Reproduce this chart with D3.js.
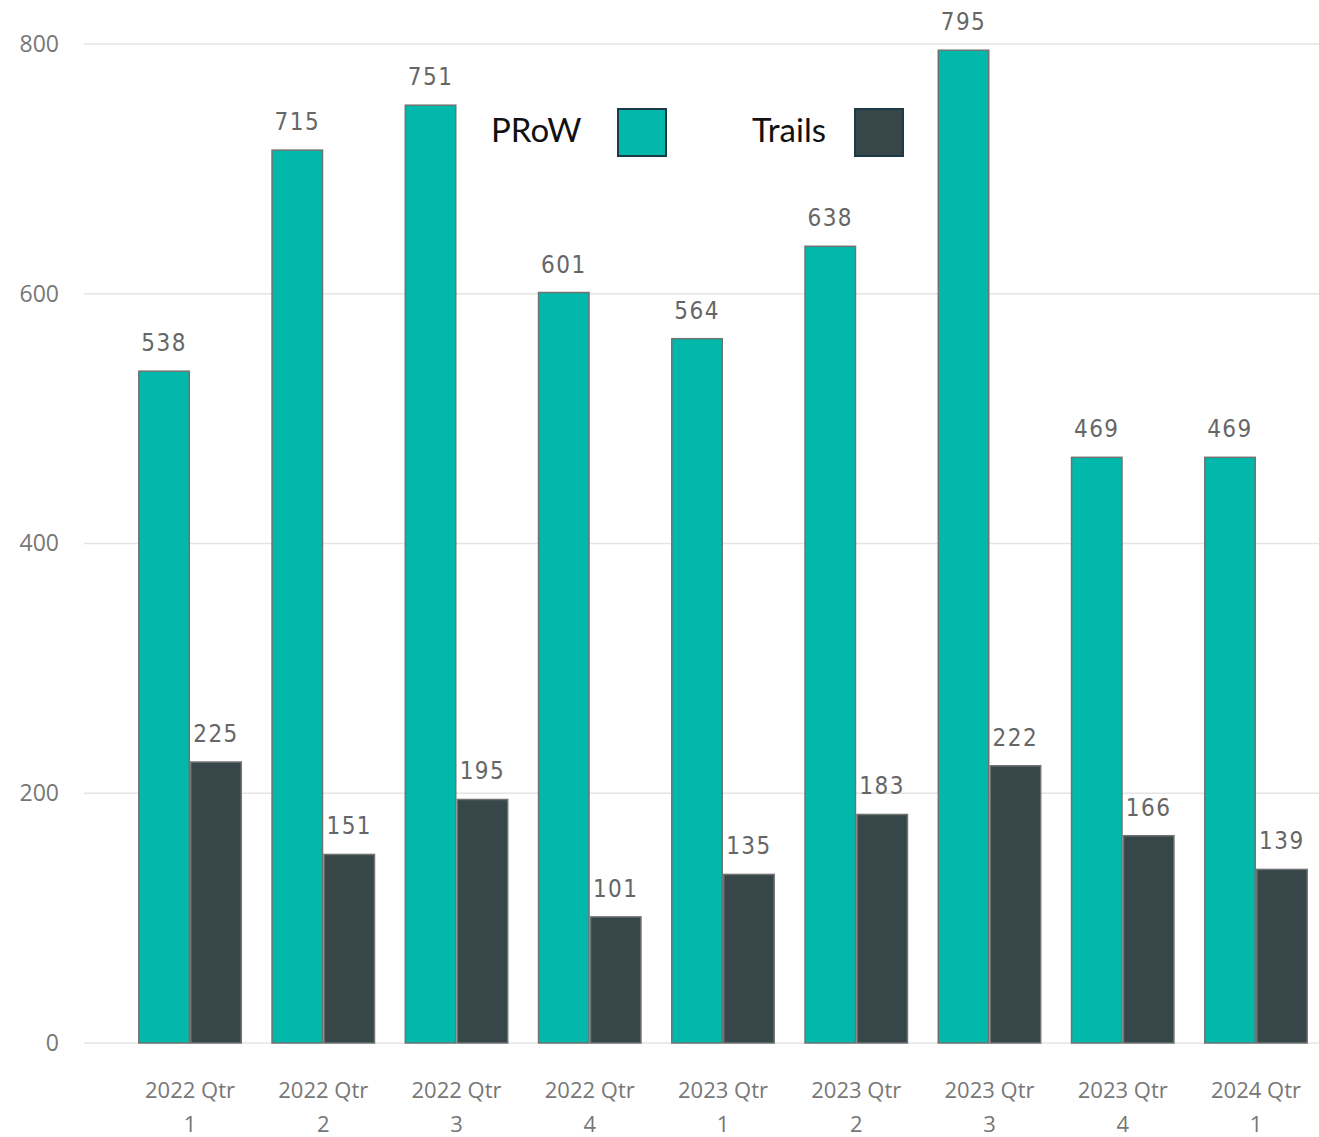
<!DOCTYPE html>
<html>
<head>
<meta charset="utf-8">
<script src="https://cdn.jsdelivr.net/npm/d3@7"></script>
<style>
  html, body { margin: 0; padding: 0; background: #ffffff; }
  svg { display: block; }
</style>
</head>
<body>
<svg id="chart" width="1319" height="1137"></svg>
<script>
// Quarterly counts for public rights of way (PRoW) and trails
const quarters = ["2022 Qtr 1", "2022 Qtr 2", "2022 Qtr 3", "2022 Qtr 4",
                  "2023 Qtr 1", "2023 Qtr 2", "2023 Qtr 3", "2023 Qtr 4", "2024 Qtr 1"];
const prowValues = [538, 715, 751, 601, 564, 638, 795, 469, 469];
const trailsValues = [225, 151, 195, 101, 135, 183, 222, 166, 139];
const seriesNames = ["PRoW", "Trails"];
const yTicks = [0, 200, 400, 600, 800];

const colors = { PRoW: "#01b8aa", Trails: "#374649" };

const rows = quarters.map((q, i) => ({ quarter: q, PRoW: prowValues[i], Trails: trailsValues[i] }));

const svg = d3.select("#chart");

const y = d3.scaleLinear().domain([0, 800]).range([1043, 44]);

const x0 = d3.scaleBand()
  .domain(quarters)
  .range([123.4, 1322.6])
  .paddingInner(0.22)
  .paddingOuter(0.11);

const x1 = d3.scaleBand()
  .domain(seriesNames)
  .range([0, x0.bandwidth()])
  .padding(0);

// Horizontal gridlines
svg.append("g")
  .selectAll("line")
  .data(yTicks)
  .join("line")
  .attr("x1", 84).attr("x2", 1319)
  .attr("y1", d => y(d)).attr("y2", d => y(d))
  .attr("stroke", "#e4e4e4")
  .attr("stroke-width", 1.5);

// Y axis tick labels
const yAxis = d3.axisLeft(y).tickValues(yTicks).tickSize(0).tickPadding(0);
const yg = svg.append("g").attr("transform", "translate(59,0)").call(yAxis);
yg.select(".domain").remove();
yg.selectAll("text")
  .attr("fill", "#777777")
  .style("font-family", "'Open Sans', 'Noto Sans', sans-serif")
  .style("font-size", "23px");

// Grouped bars
const groups = svg.append("g")
  .selectAll("g")
  .data(rows)
  .join("g")
  .attr("transform", d => `translate(${x0(d.quarter)},0)`);

groups.selectAll("rect")
  .data(d => seriesNames.map(k => ({ key: k, value: d[k] })))
  .join("rect")
  .attr("x", d => x1(d.key) + 0.75)
  .attr("width", x1.bandwidth() - 1.5)
  .attr("y", d => y(d.value))
  .attr("height", d => y(0) - y(d.value))
  .attr("fill", d => colors[d.key])
  .attr("stroke", "#707372")
  .attr("stroke-width", 1.5);

// Value labels above each bar
groups.selectAll("text.val")
  .data(d => seriesNames.map(k => ({ key: k, value: d[k] })))
  .join("text")
  .attr("class", "val")
  .attr("x", d => x1(d.key) + x1.bandwidth() / 2)
  .attr("y", d => y(d.value) - 20)
  .attr("text-anchor", "middle")
  .attr("fill", "#666666")
  .style("font-family", "'DejaVu Sans Condensed', 'Roboto', sans-serif")
  .style("font-size", "24px")
  .style("letter-spacing", "1.5px")
  .text(d => d.value);

// X axis category labels on two lines
const xLabels = svg.append("g")
  .selectAll("text")
  .data(quarters)
  .join("text")
  .attr("x", d => x0(d) + x0.bandwidth() / 2)
  .attr("y", 1098)
  .attr("text-anchor", "middle")
  .attr("fill", "#777777")
  .style("font-family", "'Open Sans', 'Noto Sans', sans-serif")
  .style("font-size", "22px");

xLabels.append("tspan")
  .attr("x", d => x0(d) + x0.bandwidth() / 2)
  .text(d => d.slice(0, d.lastIndexOf(" ")));
xLabels.append("tspan")
  .attr("x", d => x0(d) + x0.bandwidth() / 2)
  .attr("dy", 34)
  .text(d => d.slice(d.lastIndexOf(" ") + 1));

// Legend
const legendItems = [
  { name: "PRoW", textX: 491, boxX: 618 },
  { name: "Trails", textX: 752, boxX: 855 }
];
const legend = svg.append("g");
legend.selectAll("text")
  .data(legendItems)
  .join("text")
  .attr("x", d => d.textX)
  .attr("y", 142)
  .attr("fill", "#111111")
  .style("font-family", "'Lato', 'Open Sans', sans-serif")
  .style("font-size", "33px")
  .text(d => d.name);
legend.selectAll("rect")
  .data(legendItems)
  .join("rect")
  .attr("x", d => d.boxX)
  .attr("y", 109)
  .attr("width", 48)
  .attr("height", 47)
  .attr("fill", d => colors[d.name])
  .attr("stroke", "#1d3b47")
  .attr("stroke-width", 2);
</script>
</body>
</html>
